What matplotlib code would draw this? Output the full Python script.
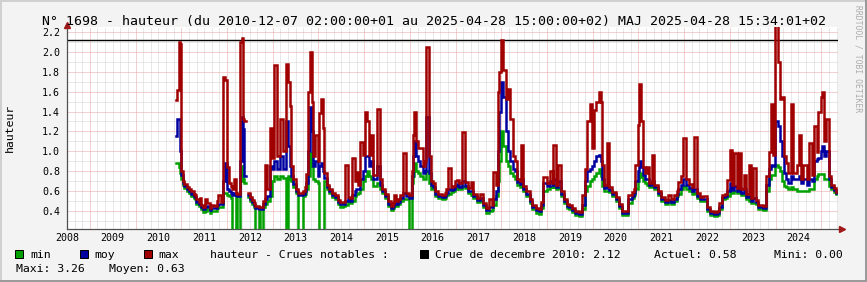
import numpy as np
import matplotlib
matplotlib.use("Agg")
import matplotlib.pyplot as plt
from matplotlib.patches import Rectangle

W, H = 867, 282
nan = np.nan

# dates in decimal years, water height (m): daily min / mean / max
t = [2010.88, 2010.91, 2010.94, 2010.97, 2011.00, 2011.03, 2011.07, 2011.12, 2011.17, 2011.22,
     2011.27, 2011.30, 2011.33, 2011.38, 2011.41, 2011.43, 2011.48, 2011.52, 2011.56, 2011.62,
     2011.66, 2011.72, 2011.78, 2011.81, 2011.86, 2011.91, 2011.96,
     2012.01, 2012.04, 2012.08, 2012.11, 2012.15, 2012.20, 2012.22, 2012.28, 2012.32, 2012.35,
     2012.38, 2012.41, 2012.45, 2012.50, 2012.55, 2012.60, 2012.62, 2012.69, 2012.72, 2012.79,
     2012.84, 2012.88, 2012.93, 2012.99, 2013.03, 2013.09, 2013.15, 2013.22, 2013.28, 2013.33,
     2013.37, 2013.41, 2013.45, 2013.50,
     2013.56, 2013.66, 2013.70, 2013.73, 2013.77, 2013.82, 2013.85, 2013.88, 2013.93, 2013.98,
     2014.01, 2014.06, 2014.10, 2014.13, 2014.18, 2014.24, 2014.30, 2014.36, 2014.42, 2014.48,
     2014.53, 2014.57, 2014.64, 2014.68, 2014.73, 2014.79, 2014.83, 2014.86, 2014.91, 2014.97,
     2015.01, 2015.06, 2015.10, 2015.15, 2015.20, 2015.29, 2015.35, 2015.40, 2015.46, 2015.53,
     2015.58, 2015.64, 2015.66, 2015.70, 2015.73, 2015.79, 2015.86, 2015.91, 2015.99, 2016.04,
     2016.06, 2016.09, 2016.13, 2016.18, 2016.23, 2016.28, 2016.32, 2016.36, 2016.42,
     2016.46, 2016.51, 2016.56, 2016.62, 2016.70, 2016.76, 2016.80, 2016.84, 2016.89, 2016.94,
     2016.99, 2017.04, 2017.08, 2017.13, 2017.20, 2017.27, 2017.34, 2017.39, 2017.46, 2017.53,
     2017.60, 2017.66, 2017.72, 2017.79, 2017.82, 2017.88, 2017.93, 2017.96, 2017.99, 2018.04,
     2018.10, 2018.15, 2018.20, 2018.25, 2018.29, 2018.35, 2018.41, 2018.44, 2018.48, 2018.55,
     2018.62, 2018.68, 2018.75, 2018.82, 2018.87, 2018.92, 2018.99, 2019.06, 2019.12, 2019.14,
     2019.20, 2019.25, 2019.30, 2019.37, 2019.43,
     2019.48, 2019.55, 2019.62, 2019.70, 2019.76, 2019.82, 2019.88, 2019.93, 2019.99, 2020.03,
     2020.07, 2020.13, 2020.18, 2020.21, 2020.25, 2020.32, 2020.36, 2020.42, 2020.50, 2020.58,
     2020.65, 2020.72, 2020.76, 2020.85, 2020.90, 2020.93, 2020.98, 2021.02, 2021.05, 2021.10,
     2021.15, 2021.19, 2021.23, 2021.30, 2021.34, 2021.43, 2021.50, 2021.58, 2021.65, 2021.72,
     2021.78, 2021.84, 2021.87, 2021.93, 2021.98, 2022.03, 2022.10, 2022.17, 2022.22, 2022.28,
     2022.35,
     2022.42, 2022.49, 2022.56, 2022.65, 2022.72, 2022.77, 2022.82, 2022.89, 2022.94, 2023.00,
     2023.04, 2023.10, 2023.15, 2023.20, 2023.25, 2023.31, 2023.36, 2023.42, 2023.47, 2023.51,
     2023.56, 2023.62, 2023.72, 2023.80, 2023.85, 2023.90, 2023.95, 2023.98, 2024.05, 2024.09,
     2024.13, 2024.18, 2024.23, 2024.28, 2024.33, 2024.39, 2024.46, 2024.51, 2024.56, 2024.60,
     2024.68, 2024.74, 2024.80, 2024.84, 2024.90, 2024.93, 2024.99, 2025.02, 2025.06, 2025.11,
     2025.17, 2025.22, 2025.27, 2025.32]

v_min = [0.88, 0.88, 0.84, 0.78, 0.72, 0.66, 0.63, 0.60, 0.58, 0.55,
         0.53, 0.52, 0.47, 0.45, 0.45, 0.42, 0.39, 0.40, 0.42, 0.38,
         0.40, 0.40, 0.43, 0.44, 0.44, 0.58, 0.58,
         0.56, 0.55, 0.53, 0.00, 0.00, 0.55, 0.00, 0.70, 0.85, 0.72,
         0.68, nan, 0.54, 0.50, 0.47, 0.44, 0.00, 0.40, 0.00, 0.44,
         0.47, 0.50, 0.55, 0.70, 0.75, 0.72, 0.75, 0.73, 0.00, 0.75,
         0.72, 0.70, 0.64, 0.58,
         0.00, 0.55, 0.57, 0.62, 0.75, 0.98, 0.85, 0.72, 0.70, 0.68,
         0.00, 0.00, 0.00, 0.70, 0.62, 0.58, 0.54, 0.52, 0.47, 0.44,
         0.45, 0.46, 0.50, 0.48, 0.50, 0.55, 0.57, 0.58, 0.62, 0.70,
         0.75, 0.80, 0.75, 0.72, 0.65, 0.68, 0.62, 0.58, 0.53, 0.45,
         0.41, 0.43, 0.46, 0.45, 0.47, 0.50, 0.52, 0.52, 0.00, 0.68,
         0.75, 0.88, 0.80, 0.78, 0.75, 0.72, 0.72, 0.80, 0.68,
         0.62, 0.62, 0.55, 0.53, 0.52, 0.53, 0.56, 0.57, 0.59, 0.60,
         0.62, 0.64, 0.62, 0.65, 0.63, 0.58, 0.56, 0.53, 0.49, 0.50,
         0.44, 0.38, 0.40, 0.41, 0.46, 0.55, 0.70, 0.90, 1.20, 1.05,
         0.90, 0.85, 0.78, 0.75, 0.72, 0.66, 0.64, 0.66, 0.60, 0.55,
         0.48, 0.42, 0.38, 0.37, 0.43, 0.60, 0.62, 0.64, 0.63, 0.64,
         0.62, 0.63, 0.55, 0.48, 0.43,
         0.42, 0.39, 0.36, 0.35, 0.42, 0.60, 0.65, 0.70, 0.72, 0.75,
         0.78, 0.82, 0.75, 0.65, 0.60, 0.60, 0.59, 0.55, 0.50, 0.43,
         0.36, 0.36, 0.48, 0.53, 0.56, 0.62, 0.70, 0.78, 0.74, 0.70,
         0.68, 0.66, 0.64, 0.64, 0.62, 0.56, 0.50, 0.47, 0.49, 0.47,
         0.50, 0.55, 0.57, 0.62, 0.65, 0.62, 0.60, 0.57, 0.58, 0.53,
         0.50,
         0.50, 0.40, 0.36, 0.35, 0.36, 0.42, 0.52, 0.53, 0.55, 0.62,
         0.58, 0.60, 0.58, 0.58, 0.56, 0.56, 0.52, 0.50, 0.48, 0.48,
         0.47, 0.42, 0.41, 0.60, 0.72, 0.76, 0.76, 0.86, 0.84, 0.80,
         0.70, 0.65, 0.64, 0.62, 0.64, 0.62, 0.60, 0.60, 0.60, 0.60,
         0.60, 0.62, 0.62, 0.72, 0.75, 0.77, 0.77, 0.77, 0.72, 0.72,
         0.65, 0.62, 0.59, 0.57]

v_moy = [1.15, 1.33, 1.33, 1.00, 0.76, 0.68, 0.65, 0.62, 0.60, 0.57,
         0.55, 0.54, 0.49, 0.47, 0.47, 0.44, 0.42, 0.44, 0.45, 0.41,
         0.43, 0.43, 0.46, 0.47, 0.47, 0.70, 0.88,
         0.62, 0.60, 0.58, 0.56, 0.58, 0.56, 0.55, 0.90, 1.35, 1.22,
         0.75, nan, 0.56, 0.52, 0.49, 0.46, 0.43, 0.42, 0.42, 0.47,
         0.52, 0.55, 0.85, 0.82, 0.90, 0.82, 0.95, 0.82, 1.30, 1.05,
         0.85, 0.75, 0.67, 0.60,
         0.56, 0.57, 0.60, 0.68, 1.00, 1.45, 1.20, 0.85, 0.90, 0.75,
         0.85, 0.88, 0.80, 0.73, 0.64, 0.60, 0.56, 0.54, 0.49, 0.47,
         0.47, 0.50, 0.52, 0.50, 0.56, 0.60, 0.62, 0.62, 0.72, 0.80,
         0.95, 0.95, 0.85, 0.90, 0.72, 0.85, 0.66, 0.60, 0.55, 0.47,
         0.43, 0.45, 0.49, 0.47, 0.49, 0.53, 0.58, 0.55, 0.53, 0.75,
         0.95, 1.10, 0.95, 0.90, 0.85, 0.78, 0.80, 1.35, 0.78,
         0.66, 0.64, 0.57, 0.55, 0.54, 0.55, 0.58, 0.62, 0.61, 0.62,
         0.65, 0.67, 0.64, 0.70, 0.65, 0.60, 0.60, 0.55, 0.51, 0.53,
         0.46, 0.41, 0.44, 0.44, 0.52, 0.60, 1.00, 1.40, 1.70, 1.55,
         1.20, 1.00, 0.90, 0.82, 0.80, 0.69, 0.67, 0.72, 0.62, 0.57,
         0.50, 0.44, 0.41, 0.40, 0.46, 0.68, 0.65, 0.70, 0.65, 0.72,
         0.64, 0.70, 0.57, 0.50, 0.45,
         0.44, 0.41, 0.38, 0.37, 0.46, 0.70, 0.80, 0.82, 0.85, 0.90,
         0.95, 0.96, 0.90, 0.72, 0.63, 0.65, 0.61, 0.57, 0.52, 0.45,
         0.38, 0.38, 0.52, 0.55, 0.58, 0.70, 0.80, 0.90, 0.84, 0.76,
         0.72, 0.72, 0.66, 0.70, 0.64, 0.58, 0.52, 0.49, 0.51, 0.49,
         0.52, 0.57, 0.62, 0.66, 0.72, 0.66, 0.63, 0.60, 0.62, 0.55,
         0.52,
         0.52, 0.42, 0.38, 0.37, 0.38, 0.44, 0.54, 0.55, 0.60, 0.68,
         0.61, 0.65, 0.60, 0.63, 0.58, 0.62, 0.54, 0.55, 0.50, 0.53,
         0.49, 0.44, 0.43, 0.66, 0.82, 0.86, 0.85, 1.30, 1.25, 1.10,
         0.95, 0.78, 0.72, 0.68, 0.75, 0.72, 0.72, 0.75, 0.68, 0.72,
         0.66, 0.72, 0.70, 0.90, 0.92, 0.93, 1.00, 1.05, 0.95, 1.00,
         0.72, 0.64, 0.61, 0.58]

v_max = [1.52, 1.62, 2.10, 2.08, 0.80, 0.70, 0.67, 0.64, 0.62, 0.60,
         0.57, 0.56, 0.52, 0.49, 0.53, 0.46, 0.44, 0.52, 0.48, 0.43,
         0.46, 0.45, 0.50, 0.56, 0.49, 1.75, 1.72,
         0.84, 0.68, 0.65, 0.62, 0.72, 0.58, 0.57, 2.10, 2.14, 1.33,
         1.30, nan, 0.58, 0.54, 0.51, 0.48, 0.45, 0.44, 0.44, 0.50,
         0.86, 0.62, 1.23, 0.93, 1.87, 0.95, 1.32, 1.00, 1.88, 1.70,
         1.46, 0.85, 0.72, 0.62,
         0.58, 0.60, 0.64, 0.77, 1.60, 2.00, 1.50, 0.95, 1.16, 0.90,
         1.39, 1.53, 1.23, 0.78, 0.66, 0.62, 0.58, 0.56, 0.51, 0.49,
         0.49, 0.86, 0.54, 0.53, 0.93, 0.70, 0.79, 0.66, 1.09, 0.96,
         1.40, 1.30, 0.96, 1.16, 0.76, 1.43, 0.72, 0.62, 0.57, 0.50,
         0.45, 0.48, 0.56, 0.50, 0.52, 0.56, 0.98, 0.58, 0.56, 0.80,
         1.16, 1.40, 1.10, 1.03, 1.03, 0.85, 0.90, 2.05, 0.95,
         0.70, 0.68, 0.60, 0.57, 0.56, 0.58, 0.62, 0.83, 0.64, 0.65,
         0.70, 0.71, 0.68, 1.19, 0.69, 0.63, 0.69, 0.57, 0.53, 0.57,
         0.48, 0.43, 0.52, 0.46, 0.79, 0.66, 1.60, 1.80, 2.12, 1.82,
         1.53, 1.63, 1.33, 0.95, 0.90, 0.72, 0.70, 1.06, 0.65, 0.60,
         0.52, 0.46, 0.43, 0.42, 0.49, 0.74, 0.68, 0.80, 0.67, 1.06,
         0.66, 0.86, 0.60, 0.52, 0.47,
         0.46, 0.43, 0.40, 0.39, 0.56, 0.82, 1.30, 1.48, 1.03, 1.42,
         1.50, 1.60, 1.50, 0.86, 0.66, 1.08, 0.64, 0.59, 0.54, 0.47,
         0.40, 0.40, 0.56, 0.59, 0.62, 0.86, 1.26, 1.68, 1.30, 0.84,
         0.78, 0.84, 0.68, 0.96, 0.66, 0.60, 0.54, 0.51, 0.56, 0.52,
         0.56, 0.60, 0.69, 0.75, 1.13, 0.72, 0.67, 0.64, 1.14, 0.58,
         0.54,
         0.55, 0.44, 0.40, 0.39, 0.40, 0.48, 0.56, 0.57, 0.71, 1.01,
         0.66, 0.98, 0.63, 0.98, 0.62, 0.76, 0.57, 0.86, 0.53, 0.83,
         0.51, 0.46, 0.45, 0.75, 0.99, 1.48, 0.96, 3.26, 1.90, 1.53,
         1.55, 0.95, 0.88, 0.78, 1.48, 0.78, 0.86, 1.16, 0.72, 0.86,
         0.72, 1.08, 0.76, 1.25, 0.99, 1.40, 1.55, 1.60, 1.10, 1.32,
         0.75, 0.66, 0.63, 0.59]

assert len(t) == len(v_min) == len(v_moy) == len(v_max)

years = list(range(2008, 2025))
crue_dec_2010 = 2.12
legend_stats = {"Actuel": 0.58, "Mini": 0.00, "Maxi": 3.26, "Moyen": 0.63}

c_min, c_moy, c_max = '#00a000', '#0000a0', '#a00000'
red_grid, grey_grid = '#eba5a5', '#d2d2d2'
mono = 'DejaVu Sans Mono'


def fx(x):
    return x / W


def fy(y):
    return 1 - y / H


fig = plt.figure(figsize=(W / 100, H / 100), dpi=100)
fig.patch.set_facecolor('#f3f3f3')

ax = fig.add_axes([fx(67), fy(229), fx(838) - fx(67), fy(27) - fy(229)])
ax.set_facecolor('white')
ax.set_xlim(2008.515, 2025.364)
ax.set_ylim(0.219, 2.25)

# grid: minor every 2 months / 0.1 m, major every year / 0.2 m
dots = (0, (1, 1))
for yr in range(2008, 2026):
    for k in range(1, 6):
        ax.axvline(yr + k / 6, color=grey_grid, lw=0.72, ls=dots, zorder=1)
for yv in np.arange(0.3, 2.2, 0.2):
    ax.axhline(yv, color=grey_grid, lw=0.72, ls=dots, zorder=1)
for yr in range(2009, 2026):
    ax.axvline(yr, color=red_grid, lw=0.72, ls=dots, zorder=1.5)
for yv in np.arange(0.4, 2.21, 0.2):
    ax.axhline(yv, color=red_grid, lw=0.72, ls=dots, zorder=1.5)

ax.axhline(crue_dec_2010, color='black', lw=1.0, zorder=2)

for vals, col in ((v_min, c_min), (v_moy, c_moy), (v_max, c_max)):
    ax.plot(t, vals, color=col, lw=1.8, drawstyle='steps-post',
            solid_joinstyle='miter', zorder=3)

yt = np.arange(0.4, 2.21, 0.2)
ax.set_yticks(yt)
ax.set_yticklabels(['%.1f' % v for v in yt], family=mono, fontsize=7.2)
ax.set_xticks([y + 0.5 for y in years])
ax.set_xticklabels([str(y) for y in years], family=mono, fontsize=7.2)
ax.tick_params(axis='y', length=0, pad=5)
ax.tick_params(axis='x', length=0, pad=3)

for s in ('top', 'right'):
    ax.spines[s].set_visible(False)
for s in ('left', 'bottom'):
    ax.spines[s].set_color('#505050')
    ax.spines[s].set_linewidth(0.9)
ax.plot([0], [1 + 2.5 / 202], marker='^', ms=4.5, color='#a01818',
        transform=ax.transAxes, clip_on=False, zorder=5)
ax.plot([1 + 4 / 771], [0], marker='>', ms=4.5, color='#a01818',
        transform=ax.transAxes, clip_on=False, zorder=5)

# texts
fig.text(fx(433.5), fy(24.5),
         'N° 1698 - hauteur (du 2010-12-07 02:00:00+01 au 2025-04-28 15:00:00+02)'
         ' MAJ 2025-04-28 15:34:01+02',
         family=mono, fontsize=9.55, ha='center', va='baseline')
fig.text(fx(10), fy(128), 'hauteur', family=mono, fontsize=8.25,
         rotation=90, ha='center', va='center')
fig.text(fx(858), fy(5), 'RRDTOOL / TOBI OETIKER', family=mono, fontsize=5.8,
         color='#ababab', rotation=270, ha='center', va='top')

row1, row2 = 258, 272
legend_items = [(15, c_min, 30, 'min'), (80, c_moy, 94.5, 'moy'),
                (144, c_max, 158.5, 'max'), (420, 'black', 435, 'Crue de decembre 2010: %.2f' % crue_dec_2010)]
for bx, col, tx, label in legend_items:
    fig.add_artist(Rectangle((fx(bx), fy(row1)), 8 / W, 8 / H, transform=fig.transFigure,
                             facecolor=col, edgecolor='black', lw=0.72))
    fig.text(fx(tx), fy(row1), label, family=mono, fontsize=8.25, va='baseline')
fig.text(fx(210), fy(row1), 'hauteur - Crues notables :', family=mono, fontsize=8.25, va='baseline')
fig.text(fx(654), fy(row1), 'Actuel: %.2f' % legend_stats['Actuel'], family=mono, fontsize=8.25, va='baseline')
fig.text(fx(774), fy(row1), 'Mini: %.2f' % legend_stats['Mini'], family=mono, fontsize=8.25, va='baseline')
fig.text(fx(15.5), fy(row2), 'Maxi: %.2f' % legend_stats['Maxi'], family=mono, fontsize=8.25, va='baseline')
fig.text(fx(109), fy(row2), 'Moyen: %.2f' % legend_stats['Moyen'], family=mono, fontsize=8.25, va='baseline')

# 3d-ish frame
for xy, w, h, col in (((0, 1 - 2 / H), 1, 2 / H, '#d0d0d0'), ((0, 0), 2 / W, 1, '#d0d0d0'),
                      ((0, 0), 1, 2 / H, '#9a9a9a'), ((1 - 2 / W, 0), 2 / W, 1, '#9a9a9a')):
    fig.add_artist(Rectangle(xy, w, h, transform=fig.transFigure, color=col, lw=0))

fig.savefig('out.png', dpi=100, facecolor=fig.get_facecolor())
